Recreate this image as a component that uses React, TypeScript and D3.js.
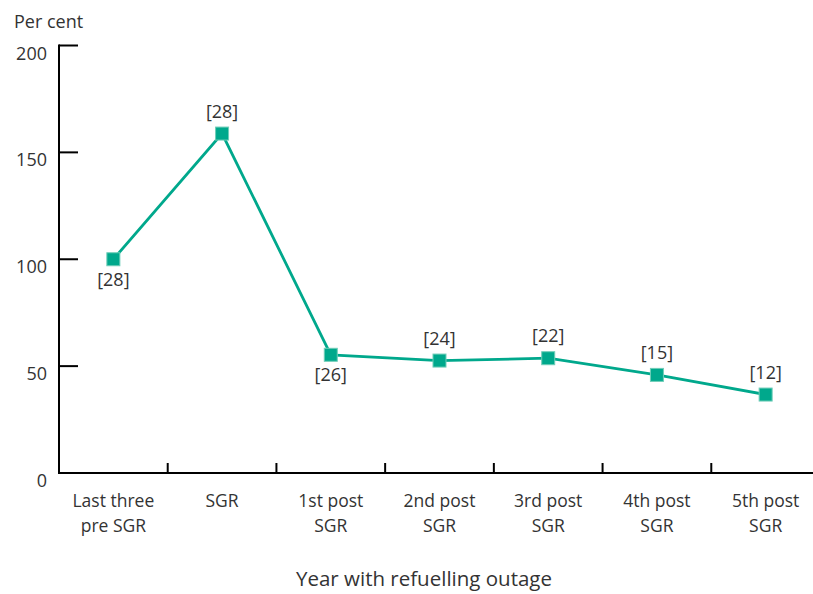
import React from "react";
import * as d3 from "d3";

const categories: string[][] = [
  ["Last three", "pre SGR"],
  ["SGR"],
  ["1st post", "SGR"],
  ["2nd post", "SGR"],
  ["3rd post", "SGR"],
  ["4th post", "SGR"],
  ["5th post", "SGR"],
];
const values: number[] = [100, 158.8, 55.3, 52.6, 53.7, 45.9, 36.7];
const counts: string[] = ["[28]", "[28]", "[26]", "[24]", "[22]", "[15]", "[12]"];
const labelBelow: boolean[] = [true, false, true, false, false, false, false];
const yTicks: number[] = [0, 50, 100, 150, 200];

const W = 813;
const H = 594;
const left = 59;
const right = 820;
const top = 45.5;
const bottom = 473;
const FONT = "'Open Sans', 'Noto Sans', sans-serif";
const TEXT = "#333";
const TEAL = "#00a88c";

export default function App() {
  const x = d3
    .scaleBand<number>()
    .domain(d3.range(categories.length))
    .range([left, right])
    .padding(0);
  const y = d3.scaleLinear().domain([0, 200]).range([bottom, top]);
  const line = d3
    .line<number>()
    .x((_, i) => (x(i) as number) + x.bandwidth() / 2)
    .y((d) => y(d));

  return (
    <svg
      width={W}
      height={H}
      style={{ position: "absolute", left: 0, top: 0, background: "#fff" }}
      fontFamily={FONT}
    >
      <text x={14} y={28} fontSize={18} fill={TEXT}>
        Per cent
      </text>
      {/* y axis */}
      <line x1={left} x2={left} y1={top - 1} y2={bottom + 1} stroke="#000" strokeWidth={2} />
      {yTicks.map((t) => (
        <g key={t}>
          {t > 0 && (
            <line x1={left} x2={left + 19} y1={y(t)} y2={y(t)} stroke="#000" strokeWidth={2} />
          )}
          <text x={47} y={y(t) + 14} fontSize={18} fill={TEXT} textAnchor="end">
            {t}
          </text>
        </g>
      ))}
      {/* x axis */}
      <line x1={left - 1} x2={W} y1={bottom} y2={bottom} stroke="#000" strokeWidth={2} />
      {categories.slice(1).map((_, i) => {
        const xv = x(i + 1) as number;
        return <line key={i} x1={xv} x2={xv} y1={bottom} y2={bottom - 10} stroke="#000" strokeWidth={2} />;
      })}
      {categories.map((lines, i) => {
        const cx = (x(i) as number) + x.bandwidth() / 2;
        return (
          <text key={i} x={cx} y={507} fontSize={17.5} fill={TEXT} textAnchor="middle">
            {lines.map((l, j) => (
              <tspan key={j} x={cx} dy={j === 0 ? 0 : 24.5}>
                {l}
              </tspan>
            ))}
          </text>
        );
      })}
      <text x={424} y={586} fontSize={20.5} fill={TEXT} textAnchor="middle">
        Year with refuelling outage
      </text>
      {/* series */}
      <path d={line(values) || ""} fill="none" stroke={TEAL} strokeWidth={2.8} />
      {values.map((v, i) => {
        const cx = (x(i) as number) + x.bandwidth() / 2;
        const cy = y(v);
        return (
          <g key={i}>
            <rect
              x={cx - 6.5}
              y={cy - 6.5}
              width={13}
              height={13}
              fill={TEAL}
              stroke="#6fcdb8"
              strokeWidth={1}
            />
            <text
              x={cx}
              y={labelBelow[i] ? cy + 26.5 : cy - 16}
              fontSize={18}
              fill={TEXT}
              textAnchor="middle"
            >
              {counts[i]}
            </text>
          </g>
        );
      })}
    </svg>
  );
}
